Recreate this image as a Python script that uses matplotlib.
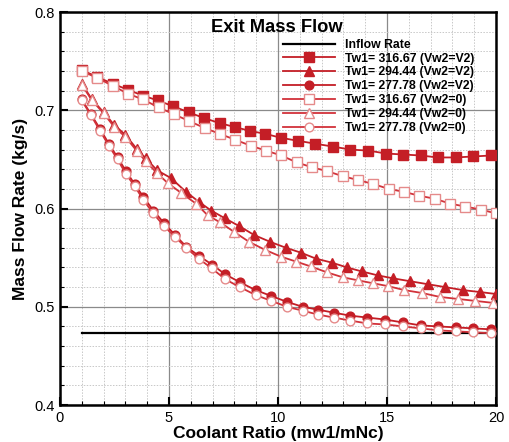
import numpy as np
import matplotlib
matplotlib.use("Agg")
import matplotlib.pyplot as plt
from matplotlib.ticker import MultipleLocator, FormatStrFormatter

plt.rcParams["font.family"] = ["Liberation Sans", "DejaVu Sans"]

# inflow reference
inflow_x = [1.0, 20.0]
inflow_y = [0.473, 0.473]

# Tw1 = 316.67, Vw2 = V2 (filled squares)
sq_v2_x = [1.0, 1.70, 2.42, 3.11, 3.80, 4.49, 5.20, 5.90, 6.62, 7.32, 8.01, 8.72, 9.42,
           10.14, 10.90, 11.71, 12.54, 13.32, 14.14, 14.95, 15.75, 16.54, 17.33, 18.15,
           18.96, 19.77]
sq_v2_y = [0.741, 0.734, 0.727, 0.721, 0.715, 0.710, 0.704, 0.698, 0.692, 0.687, 0.683,
           0.679, 0.676, 0.672, 0.669, 0.666, 0.663, 0.660, 0.659, 0.656, 0.655, 0.654,
           0.652, 0.652, 0.653, 0.654]

# Tw1 = 294.44, Vw2 = V2 (filled triangles)
tri_v2_x = [1.0, 1.47, 2.0, 2.49, 3.0, 3.51, 3.94, 4.45, 5.09, 5.78, 6.36, 6.93, 7.57,
            8.23, 8.91, 9.65, 10.37, 11.06, 11.74, 12.46, 13.17, 13.84, 14.57, 15.26,
            16.06, 16.86, 17.67, 18.47, 19.26, 20.0]
tri_v2_y = [0.727, 0.711, 0.698, 0.685, 0.675, 0.661, 0.651, 0.639, 0.631, 0.617, 0.607,
            0.598, 0.590, 0.582, 0.573, 0.566, 0.560, 0.555, 0.549, 0.545, 0.540, 0.536,
            0.532, 0.529, 0.526, 0.523, 0.520, 0.517, 0.515, 0.513]

# Tw1 = 277.78, Vw2 = V2 (filled circles)
cir_v2_x = [1.0, 1.42, 1.84, 2.24, 2.64, 3.03, 3.42, 3.82, 4.28, 4.78, 5.28, 5.80, 6.36,
            6.97, 7.58, 8.25, 8.97, 9.69, 10.41, 11.13, 11.85, 12.56, 13.30, 14.10, 14.92,
            15.73, 16.55, 17.35, 18.16, 18.96, 19.77]
cir_v2_y = [0.711, 0.696, 0.681, 0.666, 0.652, 0.638, 0.625, 0.612, 0.598, 0.585, 0.573,
            0.561, 0.552, 0.543, 0.533, 0.525, 0.517, 0.511, 0.505, 0.500, 0.497, 0.494,
            0.491, 0.489, 0.487, 0.484, 0.481, 0.480, 0.479, 0.478, 0.477]

# Tw1 = 316.67, Vw2 = 0 (open squares)
sq_0_x = [1.0, 1.70, 2.41, 3.11, 3.81, 4.52, 5.22, 5.93, 6.63, 7.33, 8.04, 8.74, 9.44,
          10.15, 10.85, 11.56, 12.26, 12.96, 13.67, 14.37, 15.07, 15.78, 16.48, 17.19,
          17.89, 18.59, 19.30, 20.0]
sq_0_y = [0.740, 0.733, 0.725, 0.717, 0.711, 0.703, 0.696, 0.689, 0.682, 0.676, 0.670,
          0.664, 0.659, 0.654, 0.647, 0.642, 0.638, 0.633, 0.629, 0.625, 0.620, 0.617,
          0.613, 0.610, 0.605, 0.602, 0.599, 0.595]

# Tw1 = 294.44, Vw2 = 0 (open triangles)
tri_0_x = [1.0, 1.47, 2.0, 2.49, 3.0, 3.51, 3.94, 4.45, 4.94, 5.55, 6.24, 6.78, 7.34,
           8.0, 8.68, 9.40, 10.14, 10.83, 11.51, 12.25, 12.97, 13.65, 14.34, 15.05,
           15.79, 16.61, 17.43, 18.24, 19.04, 19.85]
tri_0_y = [0.726, 0.710, 0.697, 0.683, 0.673, 0.659, 0.648, 0.636, 0.626, 0.616, 0.605,
           0.593, 0.586, 0.576, 0.566, 0.558, 0.551, 0.546, 0.541, 0.535, 0.530, 0.527,
           0.524, 0.521, 0.517, 0.514, 0.510, 0.508, 0.506, 0.504]

# Tw1 = 277.78, Vw2 = 0 (open circles)
cir_0_x = cir_v2_x
cir_0_y = [0.710, 0.695, 0.679, 0.664, 0.650, 0.635, 0.623, 0.609, 0.595, 0.582, 0.571,
           0.560, 0.549, 0.539, 0.528, 0.520, 0.512, 0.506, 0.500, 0.496, 0.492, 0.489,
           0.486, 0.483, 0.482, 0.480, 0.478, 0.476, 0.475, 0.474, 0.473]

dark = "#C41E26"
line_open = "#D2323A"
edge_open = "#E58A8A"

fig = plt.figure(figsize=(5.1, 4.42), dpi=100)
ax = fig.add_axes([0.1176, 0.0837, 0.855, 0.889])

ax.plot(inflow_x, inflow_y, color="black", lw=1.6, label="Inflow Rate", zorder=3)

ax.plot(sq_v2_x, sq_v2_y, color=dark, lw=1.3, marker="s", ms=7.0, mfc=dark, mec=dark,
        label="Tw1= 316.67 (Vw2=V2)", zorder=4)
ax.plot(tri_v2_x, tri_v2_y, color=dark, lw=1.3, marker="^", ms=7.0, mfc=dark, mec=dark,
        label="Tw1= 294.44 (Vw2=V2)", zorder=4)
ax.plot(cir_v2_x, cir_v2_y, color=dark, lw=1.3, marker="o", ms=6.3, mfc=dark, mec=dark,
        label="Tw1= 277.78 (Vw2=V2)", zorder=4)
ax.plot(sq_0_x, sq_0_y, color=line_open, lw=1.3, marker="s", ms=7.0, mfc="white",
        mec=edge_open, mew=1.0, label="Tw1= 316.67 (Vw2=0)", zorder=5)
ax.plot(tri_0_x, tri_0_y, color=line_open, lw=1.3, marker="^", ms=7.0, mfc="white",
        mec=edge_open, mew=1.0, label="Tw1= 294.44 (Vw2=0)", zorder=5)
ax.plot(cir_0_x, cir_0_y, color=line_open, lw=1.3, marker="o", ms=6.3, mfc="white",
        mec=edge_open, mew=1.0, label="Tw1= 277.78 (Vw2=0)", zorder=5)

ax.set_xlim(0, 20)
ax.set_ylim(0.4, 0.8)
ax.xaxis.set_major_locator(MultipleLocator(5))
ax.xaxis.set_minor_locator(MultipleLocator(1))
ax.yaxis.set_major_locator(MultipleLocator(0.1))
ax.yaxis.set_minor_locator(MultipleLocator(0.02))
ax.yaxis.set_major_formatter(FormatStrFormatter("%.1f"))

ax.grid(which="major", color="#8a8a8a", lw=0.9, ls="-")
ax.grid(which="minor", color="#c8c8c8", lw=0.7, ls=(0, (1.5, 1.5)))
ax.set_axisbelow(True)

ax.tick_params(which="major", direction="in", length=6, width=1.5, labelsize=10.5,
               top=False, right=False, pad=4)
ax.tick_params(which="minor", direction="in", length=3, width=0.8, top=False, right=False)
for s in ax.spines.values():
    s.set_linewidth(1.8)

ax.set_xlabel("Coolant Ratio (mw1/mNc)", fontsize=12.5, fontweight="bold", labelpad=1)
ax.set_ylabel("Mass Flow Rate (kg/s)", fontsize=12.5, fontweight="bold", labelpad=4)

ax.text(0.497, 0.960, "Exit Mass Flow", transform=ax.transAxes, ha="center", va="center",
        fontsize=13.2, fontweight="bold", zorder=6)

leg = ax.legend(loc="upper left", bbox_to_anchor=(0.511, 0.932), frameon=False,
                prop={"weight": "bold", "size": 8.8}, handlelength=4.25,
                handletextpad=0.8, labelspacing=0.15, numpoints=1,
                borderaxespad=0.0, borderpad=0.0)
leg.set_zorder(7)

fig.savefig("out.png", dpi=100)
